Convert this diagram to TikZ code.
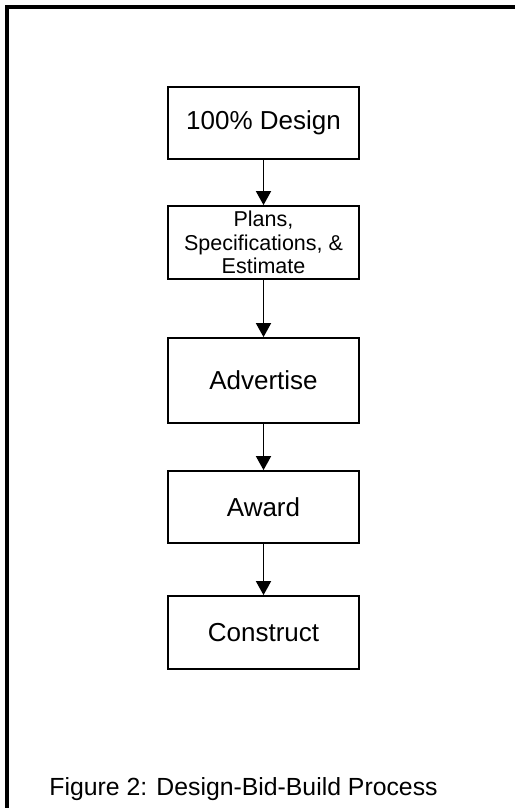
\documentclass[tikz,border=0pt]{standalone}
\usepackage{fontspec}
\setmainfont{Liberation Sans}
\usetikzlibrary{arrows.meta}
\begin{document}
\begin{tikzpicture}[x=1pt,y=-1pt,
  stepbox/.style={draw=black,line width=1.8pt,minimum width=191pt,inner sep=0pt,align=center,font=\fontsize{26}{30}\selectfont},
  conn/.style={line width=1.8pt,-{Triangle[length=14pt,width=15pt]}}]
\useasboundingbox (0,0) rectangle (515,808);
\draw[line width=4pt,line join=miter] (7,808) -- (7,7) -- (515,7);
\node[stepbox,minimum height=72pt] (design) at (263.5,123) {100\% Design};
\node[stepbox,minimum height=73pt,font=\fontsize{21.5}{23.7}\selectfont] (pse) at (263.5,242.5) {Plans,\\Specifications, \&\\Estimate};
\node[stepbox,minimum height=85pt] (adv) at (263.5,380.5) {Advertise};
\node[stepbox,minimum height=72pt] (award) at (263.5,507) {Award};
\node[stepbox,minimum height=73pt] (cons) at (263.5,632.5) {Construct};
\draw[conn] (design) -- (pse);
\draw[conn] (pse) -- (adv);
\draw[conn] (adv) -- (award);
\draw[conn] (award) -- (cons);
\node[font=\fontsize{24.8}{28}\selectfont,anchor=base,inner sep=0pt] (cap) at (243.5,795) {Figure 2: Design-Bid-Build Process};
\end{tikzpicture}
\end{document}
